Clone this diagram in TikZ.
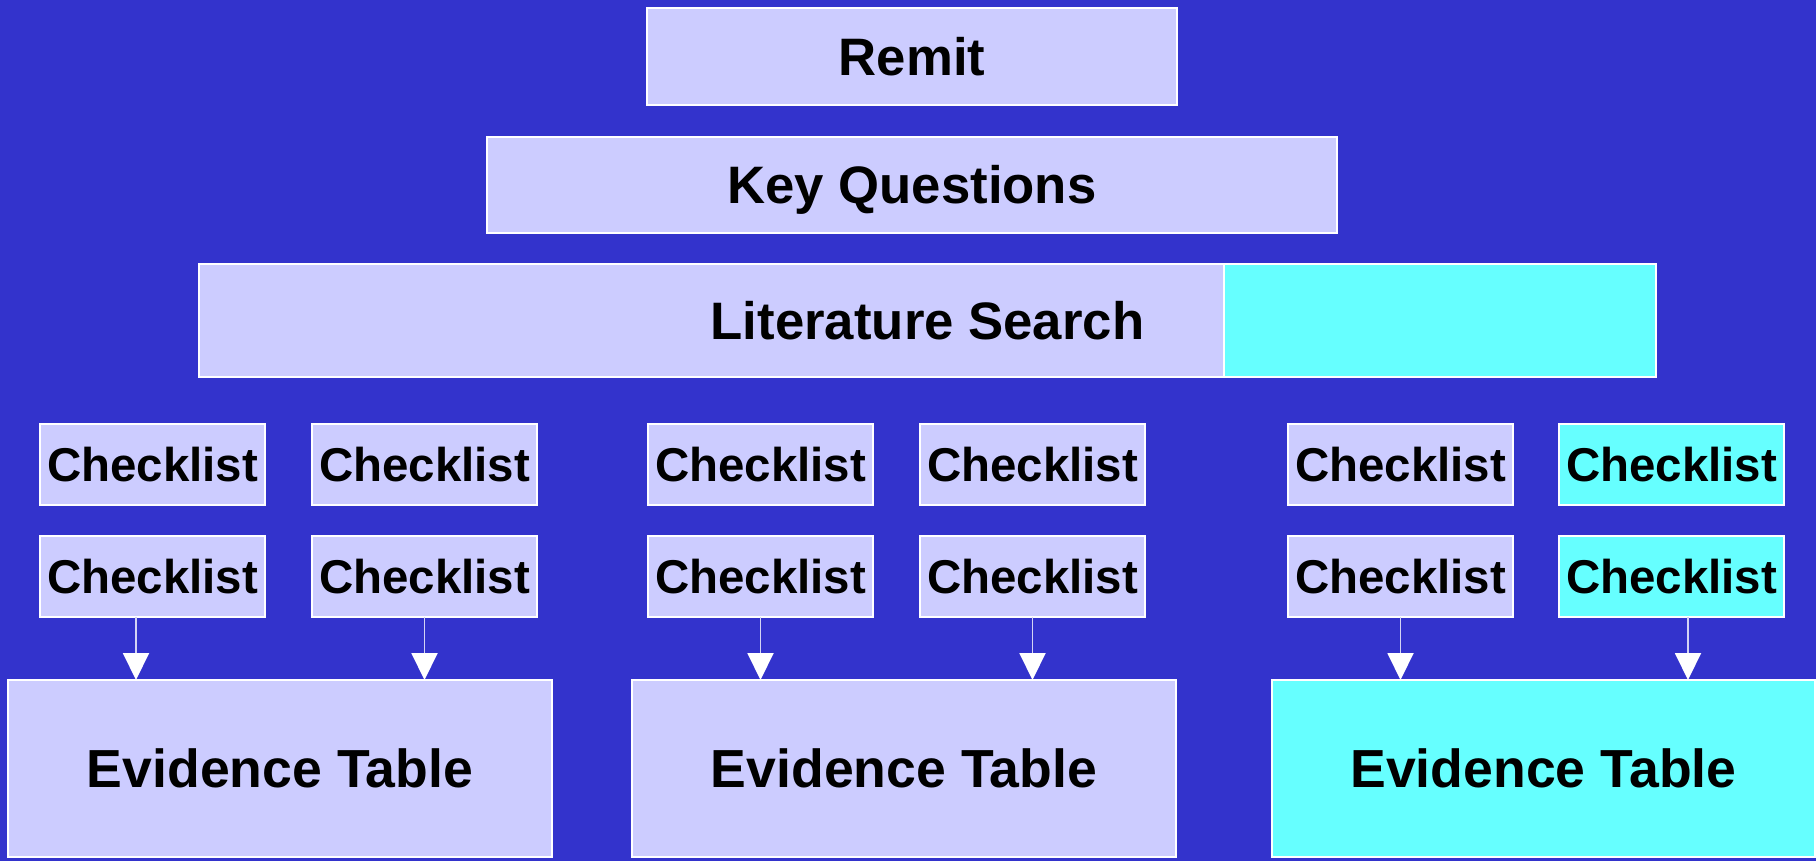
\documentclass[tikz,border=0pt]{standalone}
\usepackage{fontspec}
\setmainfont{Liberation Sans}
\usepackage{tikz}
\usepackage{xcolor}
\usetikzlibrary{positioning, arrows.meta, calc}

\definecolor{bgblue}{HTML}{3333CC}
\definecolor{lavender}{HTML}{CCCCFF}
\definecolor{aqua}{HTML}{66FFFF}
\definecolor{stemgray}{HTML}{D4D4F4}

\begin{document}
\begin{tikzpicture}[x=0.02cm, y=-0.02cm,
    box/.style={rectangle, draw=white, line width=0.8pt, fill=lavender, inner sep=0pt, outer sep=0pt,
        font=\fontsize{30pt}{34pt}\selectfont\bfseries, text height=21.5pt, text depth=0pt},
    hot/.style={fill=aqua},
    ckbox/.style={box, minimum width=4.5cm, minimum height=1.62cm,
        font=\fontsize{27pt}{31pt}\selectfont\bfseries, text height=19.3pt},
    etbox/.style={box, minimum width=10.88cm, minimum height=3.54cm, font=\fontsize{30.5pt}{34pt}\selectfont\bfseries},
    flow/.style={draw=stemgray, line width=1.1pt, -{Triangle[length=0.54cm, width=0.52cm, color=white]}}]
            \fill[bgblue] (0, 0) rectangle (1816, 861);
            \useasboundingbox (0, 0) rectangle (1816, 861);

            \node[box, minimum width=10.6cm, minimum height=1.94cm] (remit) at (912, 56.5) {Remit};
            \node[box, minimum width=17cm, minimum height=1.92cm] (kq) at (912, 185) {Key Questions};
            \node[box, minimum width=20.5cm, minimum height=2.26cm] (lit) at (711.5, 320.5) {};
            \node[box, hot, minimum width=8.64cm, minimum height=2.26cm] (litx) at (1440, 320.5) {};
            \node[font=\fontsize{30pt}{34pt}\selectfont\bfseries, text height=21.5pt, text depth=0pt, inner sep=0pt]
                (littext) at ($(lit.west)!0.5!(litx.east)$) {Literature Search};

            % checklists, two rows
            \node[ckbox] (ck11) at (152.5, 464.5) {Checklist};
            \node[ckbox] (ck12) at (424.5, 464.5) {Checklist};
            \node[ckbox] (ck13) at (760.5, 464.5) {Checklist};
            \node[ckbox] (ck14) at (1032.5, 464.5) {Checklist};
            \node[ckbox] (ck15) at (1400.5, 464.5) {Checklist};
            \node[ckbox, hot] (ck16) at (1671.5, 464.5) {Checklist};
            \node[ckbox] (ck21) at (152.5, 576.5) {Checklist};
            \node[ckbox] (ck22) at (424.5, 576.5) {Checklist};
            \node[ckbox] (ck23) at (760.5, 576.5) {Checklist};
            \node[ckbox] (ck24) at (1032.5, 576.5) {Checklist};
            \node[ckbox] (ck25) at (1400.5, 576.5) {Checklist};
            \node[ckbox, hot] (ck26) at (1671.5, 576.5) {Checklist};

            % evidence tables
            \node[etbox] (et1) at (280, 768.5) {Evidence Table};
            \node[etbox] (et2) at (904, 768.5) {Evidence Table};
            \node[etbox, hot, minimum width=10.86cm] (et3) at (1543.5, 768.5) {Evidence Table};

            \draw[flow] ([xshift=-0.33cm]ck21.south) -- ([xshift=-0.33cm]ck21.south |- et1.north);
            \draw[flow] (ck22.south) -- (ck22.south |- et1.north);
            \draw[flow] (ck23.south) -- (ck23.south |- et2.north);
            \draw[flow] (ck24.south) -- (ck24.south |- et2.north);
            \draw[flow] (ck25.south) -- (ck25.south |- et3.north);
            \draw[flow] ([xshift=0.33cm]ck26.south) -- ([xshift=0.33cm]ck26.south |- et3.north);
        \end{tikzpicture}
\end{document}
